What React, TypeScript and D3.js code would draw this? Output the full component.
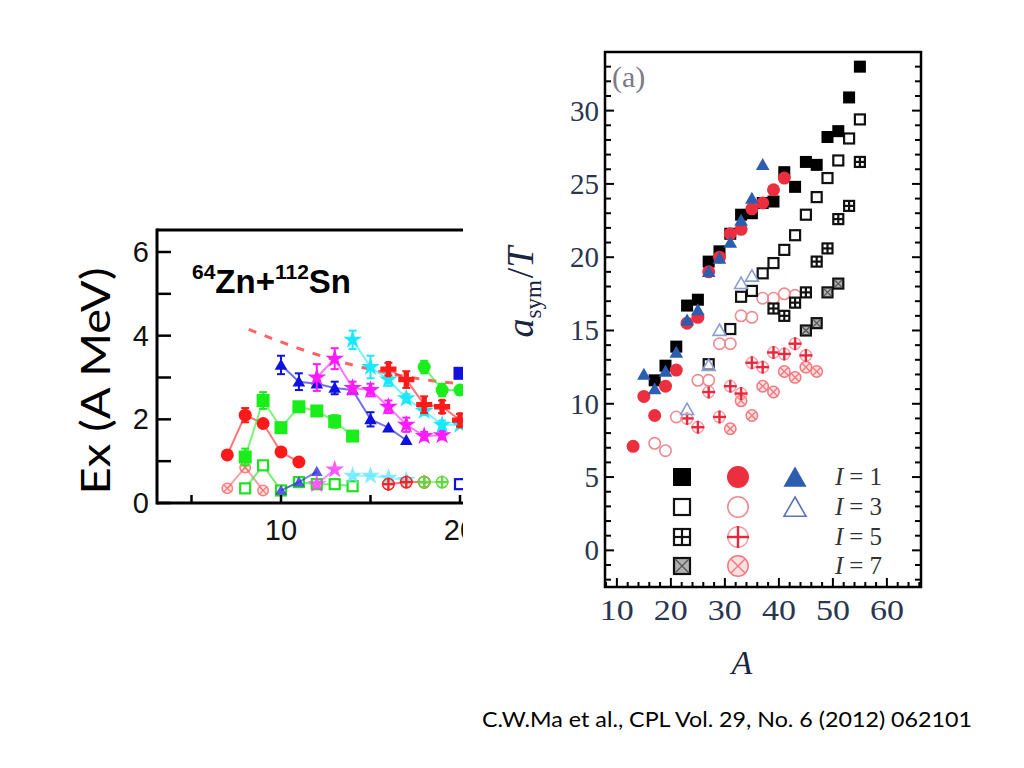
import React from "react";
import * as d3 from "d3";

// ================= Left panel: 64Zn+112Sn =================
const leftXTicks = [5, 10, 15, 20];
const leftXTickLabels = [10, 20];
const leftYTicks = [0, 1, 2, 3, 4, 5, 6];
const leftYTickLabels = [0, 2, 4, 6];

const redCircX = [7, 8, 9, 10, 11];
const redCircY = [1.15, 2.1, 1.9, 1.22, 0.98];
const redCircE = [0, 0.17, 0, 0, 0];

const greenSqX = [8, 9, 10, 11, 12, 13, 14];
const greenSqY = [1.1, 2.45, 1.8, 2.3, 2.2, 1.95, 1.6];
const greenSqE = [0.2, 0.2, 0, 0, 0, 0.15, 0];

const blueTriX = [10, 11, 12, 13, 14, 15, 16, 17];
const blueTriY = [3.3, 2.9, 2.85, 2.75, 2.7, 2.0, 1.8, 1.5];
const blueTriE = [0.22, 0.2, 0, 0.15, 0, 0.17, 0, 0];

const magX = [12, 13, 14, 15, 16, 17, 18, 19];
const magY = [3.0, 3.45, 2.75, 2.7, 2.3, 1.87, 1.6, 1.62];
const magE = [0.32, 0.25, 0.15, 0.15, 0.15, 0.17, 0.1, 0.1];

const cyanX = [14, 15, 16, 17, 18, 19, 20];
const cyanY = [3.9, 3.25, 2.95, 2.5, 2.2, 1.87, 1.87];
const cyanE = [0.22, 0.27, 0.15, 0.1, 0.1, 0.1, 0.05];

const redCrossX = [16, 17, 18, 19, 20];
const redCrossY = [3.2, 2.95, 2.35, 2.3, 1.98];
const redCrossE = [0.15, 0.2, 0.2, 0.15, 0.15];

const greenCircX = [18, 19, 20];
const greenCircY = [3.25, 2.7, 2.7];
const greenCircE = [0.15, 0.15, 0.1];

const blueSqX = [20];
const blueSqY = [3.1];

const dashX = [8.2, 10, 12, 14, 16, 18, 20];
const dashY = [4.15, 3.85, 3.55, 3.3, 3.1, 2.95, 2.85];

const lowRedX = [7, 8, 9];
const lowRedY = [0.35, 0.85, 0.3];
const lowGreenSqX = [8, 9, 10, 11, 12, 13, 14];
const lowGreenSqY = [0.35, 0.9, 0.3, 0.5, 0.45, 0.45, 0.4];
const lowBlueTriX = [10, 11, 12];
const lowBlueTriY = [0.3, 0.5, 0.75];
const lowMagX = [12, 13];
const lowMagY = [0.45, 0.8];
const lowCyanX = [14, 15, 16, 17];
const lowCyanY = [0.65, 0.65, 0.6, 0.55];
const lowRedCrossX = [16, 17, 18];
const lowRedCrossY = [0.45, 0.5, 0.5];
const lowGreenCircX = [18, 19];
const lowGreenCircY = [0.5, 0.5];
const lowBlueSqX = [20];
const lowBlueSqY = [0.45];

// ================= Right panel: a_sym/T vs A =================
const rightXTicks = [10, 20, 30, 40, 50, 60];
const rightYTicks = [0, 5, 10, 15, 20, 25, 30];

const i1SqA = [17, 19, 21, 23, 25, 27, 29, 31, 33, 35, 37, 39, 41, 43, 45, 47, 49, 51, 53, 55];
const i1SqV = [11.6, 12.6, 13.9, 16.7, 17.1, 19.7, 20.4, 21.6, 22.9, 23.0, 23.7, 23.8, 25.8, 24.8, 26.5, 26.3, 28.2, 28.6, 30.9, 33.0];
const i1CircA = [13, 15, 17, 19, 21, 23, 25, 27, 29, 31, 33, 35, 37, 39, 41];
const i1CircV = [7.1, 10.5, 9.2, 11.2, 12.3, 15.5, 15.9, 19.0, 20.0, 21.6, 21.9, 23.3, 23.7, 24.6, 25.4];
const i1TriA = [15, 17, 19, 21, 23, 25, 27, 29, 31, 33, 35, 37];
const i1TriV = [12.0, 11.0, 12.2, 13.5, 15.7, 16.4, 19.0, 19.9, 21.0, 22.5, 24.0, 26.3];

const i3SqA = [27, 31, 33, 35, 37, 39, 41, 43, 45, 47, 49, 51, 53, 55];
const i3SqV = [12.7, 15.1, 17.3, 17.7, 18.9, 19.6, 20.5, 21.5, 22.9, 24.1, 25.4, 26.6, 28.1, 29.4];
const i3CircA = [17, 19, 21, 25, 27, 29, 31, 33, 35, 37, 39, 41, 43];
const i3CircV = [7.3, 6.8, 9.1, 11.6, 11.6, 14.1, 14.1, 16.0, 15.9, 17.2, 17.2, 17.5, 17.4];
const i3TriA = [23, 27, 29, 33, 35];
const i3TriV = [9.6, 12.6, 15.0, 18.2, 18.7];

const i5SqA = [39, 41, 43, 45, 47, 49, 51, 53, 55];
const i5SqV = [16.5, 16.0, 16.9, 17.6, 19.7, 20.6, 22.6, 23.5, 26.5];
const i5CircA = [23, 25, 27, 29, 31, 33, 35, 37, 39, 41, 43, 45];
const i5CircV = [9.0, 8.4, 10.8, 9.1, 11.2, 10.7, 12.8, 12.5, 13.5, 13.4, 14.1, 13.3];

const i7SqA = [45, 47, 49, 51];
const i7SqV = [15.0, 15.5, 17.6, 18.2];
const i7CircA = [31, 33, 35, 37, 39, 41, 43, 45, 47];
const i7CircV = [8.3, 10.2, 9.2, 11.2, 10.8, 12.2, 11.8, 12.5, 12.2];

const legendLabels = ["1", "3", "5", "7"];

// ---------- marker drawing ----------
type MType =
  | "circle" | "square" | "triangle" | "star" | "cross"
  | "openSquare" | "openCircle" | "openTriangle"
  | "plusSquare" | "plusCircle" | "xSquare" | "xCircle";

function Marker(props: { t: MType; x: number; y: number; s: number; c: string; c2?: string; op?: number }) {
  const { t, x, y, s, c, c2, op = 1 } = props;
  const h = s / 2;
  switch (t) {
    case "circle":
      return <circle cx={x} cy={y} r={h} fill={c} opacity={op} />;
    case "square":
      return <rect x={x - h} y={y - h} width={s} height={s} fill={c} opacity={op} />;
    case "triangle":
      return <path d={`M${x},${y - h * 1.05}L${x + h * 1.05},${y + h * 0.8}L${x - h * 1.05},${y + h * 0.8}Z`} fill={c} opacity={op} />;
    case "star": {
      const p = d3.symbol().type(d3.symbolStar).size(s * s * 0.9)();
      return <path d={p || ""} transform={`translate(${x},${y})`} fill={c} opacity={op} />;
    }
    case "cross": {
      const p = d3.symbol().type(d3.symbolCross).size(s * s * 0.85)();
      return <path d={p || ""} transform={`translate(${x},${y})`} fill={c} opacity={op} />;
    }
    case "openSquare":
      return <rect x={x - h + 1} y={y - h + 1} width={s - 2} height={s - 2} fill="white" stroke={c} strokeWidth={2.2} opacity={op} />;
    case "openCircle":
      return <circle cx={x} cy={y} r={h - 0.8} fill="none" stroke={c} strokeWidth={1.6} opacity={op} />;
    case "openTriangle":
      return <path d={`M${x},${y - h}L${x + h},${y + h * 0.75}L${x - h},${y + h * 0.75}Z`} fill="white" fillOpacity={0.5} stroke={c} strokeWidth={1.6} opacity={op} />;
    case "plusSquare":
      return (
        <g opacity={op}>
          <rect x={x - h + 1} y={y - h + 1} width={s - 2} height={s - 2} fill="white" stroke={c} strokeWidth={2.2} />
          <line x1={x} y1={y - h + 1} x2={x} y2={y + h - 1} stroke={c} strokeWidth={2.2} />
          <line x1={x - h + 1} y1={y} x2={x + h - 1} y2={y} stroke={c} strokeWidth={2.2} />
        </g>
      );
    case "xSquare":
      return (
        <g opacity={op}>
          <rect x={x - h + 1} y={y - h + 1} width={s - 2} height={s - 2} fill="#b0b0b0" stroke={c} strokeWidth={2.2} />
          <line x1={x - h + 2} y1={y - h + 2} x2={x + h - 2} y2={y + h - 2} stroke="#555" strokeWidth={1.3} />
          <line x1={x - h + 2} y1={y + h - 2} x2={x + h - 2} y2={y - h + 2} stroke="#555" strokeWidth={1.3} />
        </g>
      );
    case "plusCircle":
      return (
        <g opacity={op}>
          <circle cx={x} cy={y} r={h - 0.8} fill="none" stroke={c2 || c} strokeWidth={1.5} />
          <line x1={x} y1={y - h} x2={x} y2={y + h} stroke={c} strokeWidth={2.4} />
          <line x1={x - h} y1={y} x2={x + h} y2={y} stroke={c} strokeWidth={2.4} />
        </g>
      );
    case "xCircle": {
      const k = h * 0.62;
      return (
        <g opacity={op}>
          <circle cx={x} cy={y} r={h - 0.8} fill="#fbe0e0" stroke={c} strokeWidth={1.5} />
          <line x1={x - k} y1={y - k} x2={x + k} y2={y + k} stroke={c} strokeWidth={1.4} />
          <line x1={x - k} y1={y + k} x2={x + k} y2={y - k} stroke={c} strokeWidth={1.4} />
        </g>
      );
    }
  }
  return null;
}

export default function App() {
  // ----- left scales -----
  const lx = d3.scaleLinear().domain([10, 20]).range([281, 460]);
  const ly = d3.scaleLinear().domain([0, 6]).range([503, 252]);
  const lLeft = 157, lTop = 230, lBottom = 503, lClipRight = 463;

  type LS = { x: number[]; y: number[]; e?: number[]; c: string; m: MType; s: number; line: boolean; mo?: number };
  const upper: LS[] = [
    { x: redCircX, y: redCircY, e: redCircE, c: "#ff1a1a", m: "circle", s: 13, line: true },
    { x: greenSqX, y: greenSqY, e: greenSqE, c: "#1aee1a", m: "square", s: 13, line: true },
    { x: blueTriX, y: blueTriY, e: blueTriE, c: "#1010e0", m: "triangle", s: 12, line: true },
    { x: magX, y: magY, e: magE, c: "#ff1aff", m: "star", s: 11, line: true },
    { x: cyanX, y: cyanY, e: cyanE, c: "#1ae8ff", m: "star", s: 11, line: true },
    { x: redCrossX, y: redCrossY, e: redCrossE, c: "#ff1a1a", m: "cross", s: 13, line: true },
    { x: greenCircX, y: greenCircY, e: greenCircE, c: "#1aee1a", m: "circle", s: 13, line: true },
    { x: blueSqX, y: blueSqY, c: "#1010e0", m: "square", s: 13, line: false },
  ];
  const lower: LS[] = [
    { x: lowRedX, y: lowRedY, c: "#ff6060", m: "xCircle", s: 12, line: true, mo: 0.8 },
    { x: lowGreenSqX, y: lowGreenSqY, c: "#20e020", m: "openSquare", s: 12, line: true },
    { x: lowBlueTriX, y: lowBlueTriY, c: "#3030e0", m: "triangle", s: 11, line: true, mo: 0.8 },
    { x: lowMagX, y: lowMagY, c: "#ff40ff", m: "star", s: 11, line: true, mo: 0.85 },
    { x: lowCyanX, y: lowCyanY, c: "#60e8ff", m: "star", s: 11, line: true, mo: 0.8 },
    { x: lowRedCrossX, y: lowRedCrossY, c: "#ff2020", m: "plusCircle", s: 13, line: true },
    { x: lowGreenCircX, y: lowGreenCircY, c: "#60d840", m: "plusCircle", s: 13, line: true },
    { x: lowBlueSqX, y: lowBlueSqY, c: "#1010e0", m: "openSquare", s: 12, line: false },
  ];
  const lineGen = d3.line<[number, number]>().x((d) => lx(d[0])).y((d) => ly(d[1]));

  const renderSeries = (arr: LS[], keyBase: string) =>
    arr.map((sr, i) => {
      const pts: [number, number][] = sr.x.map((v, j) => [v, sr.y[j]]);
      return (
        <g key={keyBase + i}>
          {sr.line && pts.length > 1 && (
            <path d={lineGen(pts) || ""} fill="none" stroke={sr.c} strokeWidth={2} opacity={0.6} />
          )}
          {sr.e &&
            pts.map((p, j) =>
              sr.e![j] > 0 ? (
                <g key={j} stroke={sr.c} strokeWidth={2}>
                  <line x1={lx(p[0])} x2={lx(p[0])} y1={ly(p[1] - sr.e![j])} y2={ly(p[1] + sr.e![j])} />
                  <line x1={lx(p[0]) - 4} x2={lx(p[0]) + 4} y1={ly(p[1] - sr.e![j])} y2={ly(p[1] - sr.e![j])} />
                  <line x1={lx(p[0]) - 4} x2={lx(p[0]) + 4} y1={ly(p[1] + sr.e![j])} y2={ly(p[1] + sr.e![j])} />
                </g>
              ) : null
            )}
          {pts.map((p, j) => (
            <Marker key={"m" + j} t={sr.m} x={lx(p[0])} y={ly(p[1])} s={sr.s} c={sr.c} op={sr.mo ?? 1} />
          ))}
        </g>
      );
    });

  const dashPts: [number, number][] = dashX.map((v, j) => [v, dashY[j]]);
  const dashLine = d3.line<[number, number]>().x((d) => lx(d[0])).y((d) => ly(d[1])).curve(d3.curveMonotoneX);

  // ----- right scales -----
  const rx = d3.scaleLinear().domain([7.8, 66.5]).range([605, 922]);
  const ry = d3.scaleLinear().domain([-2.5, 34]).range([587, 52]);
  const rL = 605, rR = 921, rT = 52, rB = 587;
  const yMinor = d3.range(-2, 35, 1);
  const xMinor = d3.range(8, 67, 2);

  type RS = { a: number[]; v: number[]; m: MType; c: string; s: number; c2?: string };
  const rightSeries: RS[] = [
    { a: i7CircA, v: i7CircV, m: "xCircle", c: "#f07a80", s: 13 },
    { a: i5CircA, v: i5CircV, m: "plusCircle", c: "#e8283a", c2: "#f4a0a8", s: 13 },
    { a: i3CircA, v: i3CircV, m: "openCircle", c: "#f08890", s: 13 },
    { a: i7SqA, v: i7SqV, m: "xSquare", c: "#111", s: 12 },
    { a: i5SqA, v: i5SqV, m: "plusSquare", c: "#111", s: 12 },
    { a: i3SqA, v: i3SqV, m: "openSquare", c: "#111", s: 12 },
    { a: i3TriA, v: i3TriV, m: "openTriangle", c: "#8a9ed4", s: 13 },
    { a: i1SqA, v: i1SqV, m: "square", c: "#000", s: 12 },
    { a: i1CircA, v: i1CircV, m: "circle", c: "#ec2f3e", s: 13 },
    { a: i1TriA, v: i1TriV, m: "triangle", c: "#2b5db0", s: 13 },
  ];

  const legRows = [477, 507, 537, 566];
  const legSq: MType[] = ["square", "openSquare", "plusSquare", "xSquare"];
  const legCi: MType[] = ["circle", "openCircle", "plusCircle", "xCircle"];
  const legCiCol = ["#ec2f3e", "#f08890", "#e8283a", "#f07a80"];

  const serif = "'Liberation Serif', 'DejaVu Serif', serif";
  const sans = "'Liberation Sans', Arial, sans-serif";
  const cal = "Lato, 'Open Sans', sans-serif";

  return (
    <svg width={1024} height={768} style={{ position: "absolute", left: 0, top: 0, background: "#fff" }}>
      <defs>
        <clipPath id="leftClip">
          <rect x={0} y={0} width={lClipRight} height={768} />
        </clipPath>
        <clipPath id="leftPlot">
          <rect x={lLeft} y={lTop} width={lClipRight - lLeft} height={lBottom - lTop} />
        </clipPath>
      </defs>

      {/* ================= LEFT PANEL ================= */}
      <g clipPath="url(#leftClip)">
        <g clipPath="url(#leftPlot)">
          <path d={dashLine(dashPts) || ""} fill="none" stroke="#ff3030" strokeWidth={3} strokeDasharray="8,9" opacity={0.75} />
          {renderSeries(lower, "lo")}
          {renderSeries(upper, "up")}
        </g>
        {/* frame */}
        <line x1={lLeft} x2={lClipRight + 5} y1={lTop} y2={lTop} stroke="#000" strokeWidth={3} />
        <line x1={lLeft} x2={lLeft} y1={lTop - 1.5} y2={lBottom + 1.5} stroke="#000" strokeWidth={3} />
        <line x1={lLeft} x2={lClipRight + 5} y1={lBottom} y2={lBottom} stroke="#000" strokeWidth={3} />
        {leftYTicks.map((t) => (
          <line key={"lyt" + t} x1={lLeft} x2={lLeft + 14} y1={ly(t)} y2={ly(t)} stroke="#000" strokeWidth={2.5} />
        ))}
        {leftXTicks.map((t) => (
          <line key={"lxt" + t} x1={lx(t)} x2={lx(t)} y1={lBottom} y2={lBottom - 8} stroke="#000" strokeWidth={2.5} />
        ))}
        {leftYTickLabels.map((t) => (
          <text key={"lyl" + t} x={149} y={ly(t) + 10} textAnchor="end" fontFamily={sans} fontSize={29} fill="#111">
            {t}
          </text>
        ))}
        {leftXTickLabels.map((t) => (
          <text key={"lxl" + t} x={lx(t)} y={540} textAnchor="middle" fontFamily={sans} fontSize={29} fill="#111">
            {t}
          </text>
        ))}
        <text x={192} y={293} fontFamily={sans} fontWeight="bold" fontSize={33} fill="#000">
          <tspan fontSize={21} dy={-14}>64</tspan>
          <tspan dy={14}>Zn+</tspan>
          <tspan fontSize={21} dy={-14}>112</tspan>
          <tspan dy={14}>Sn</tspan>
        </text>
      </g>
      <text
        transform="translate(110,381) rotate(-90)"
        textAnchor="middle"
        fontFamily={cal}
        fontSize={40}
        fill="#000"
        textLength={227}
        lengthAdjust="spacingAndGlyphs"
      >
        Ex (A MeV)
      </text>

      {/* ================= RIGHT PANEL ================= */}
      {rightSeries.map((sr, i) => (
        <g key={"rs" + i}>
          {sr.a.map((a, j) => (
            <Marker key={j} t={sr.m} x={rx(a)} y={ry(sr.v[j])} s={sr.s} c={sr.c} c2={sr.c2} />
          ))}
        </g>
      ))}

      {/* legend */}
      {legRows.map((y, i) => (
        <g key={"leg" + i}>
          <Marker t={legSq[i]} x={682} y={y} s={18} c={i === 0 ? "#000" : "#111"} />
          <Marker t={legCi[i]} x={738} y={y} s={22} c={legCiCol[i]} c2="#f4a0a8" />
          {i === 0 && <Marker t="triangle" x={795} y={y + 1} s={22} c="#2b5db0" />}
          {i === 1 && <Marker t="openTriangle" x={795} y={y + 1} s={22} c="#5a74bc" />}
          <text x={835} y={y + 8} fontFamily={serif} fontSize={25} fill="#333">
            <tspan fontStyle="italic">I</tspan>
            <tspan dx={6}>=</tspan>
            <tspan dx={6}>{legendLabels[i]}</tspan>
          </text>
        </g>
      ))}

      {/* frame */}
      <rect x={rL} y={rT} width={rR - rL} height={rB - rT} fill="none" stroke="#000" strokeWidth={2.5} />
      {yMinor.map((t) => (
        <g key={"ryt" + t}>
          <line x1={rL} x2={rL + (t % 5 === 0 ? 9 : 6)} y1={ry(t)} y2={ry(t)} stroke="#000" strokeWidth={2} />
          <line x1={rR} x2={rR - (t % 5 === 0 ? 9 : 6)} y1={ry(t)} y2={ry(t)} stroke="#000" strokeWidth={2} />
        </g>
      ))}
      {xMinor.map((t) => (
        <line key={"rxt" + t} x1={rx(t)} x2={rx(t)} y1={rB} y2={rB - (t % 10 === 0 ? 9 : 5)} stroke="#000" strokeWidth={2} />
      ))}
      {rightYTicks.map((t) => (
        <text key={"ryl" + t} x={599} y={ry(t) + 10} textAnchor="end" fontFamily={serif} fontSize={29} fill="#2a3550">
          {t}
        </text>
      ))}
      {rightXTicks.map((t) => (
        <text
          key={"rxl" + t}
          x={rx(t)}
          y={620}
          textAnchor="middle"
          fontFamily={serif}
          fontSize={29}
          fill="#2a3550"
          textLength={34}
          lengthAdjust="spacingAndGlyphs"
        >
          {t}
        </text>
      ))}
      <text x={742} y={674} textAnchor="middle" fontFamily={serif} fontStyle="italic" fontSize={34} fill="#1a2540">
        A
      </text>
      <text transform="translate(533,292) rotate(-90)" textAnchor="middle" fontFamily={serif} fontSize={38} fill="#1a2540">
        <tspan fontStyle="italic">a</tspan>
        <tspan fontSize={23} dy={8}>sym</tspan>
        <tspan dy={-8} dx={2}>/</tspan>
        <tspan fontStyle="italic">T</tspan>
      </text>
      <text x={612} y={87} fontFamily={serif} fontSize={30} fill="#7a7a8a">
        (a)
      </text>

      {/* caption */}
      <text x={482} y={727} fontFamily={cal} fontSize={22} fill="#000" textLength={490} lengthAdjust="spacingAndGlyphs">
        C.W.Ma et al., CPL Vol. 29, No. 6 (2012) 062101
      </text>
    </svg>
  );
}
